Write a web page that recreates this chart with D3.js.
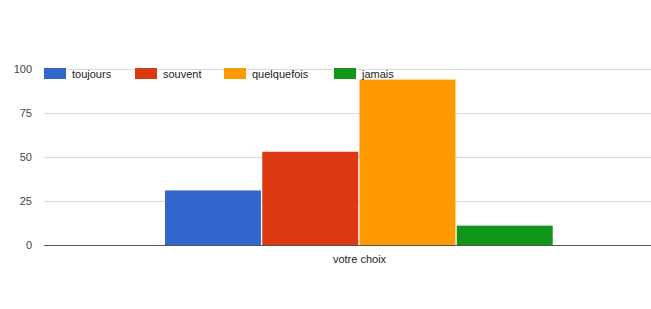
<!DOCTYPE html>
<html>
<head>
<meta charset="utf-8">
<script src="https://cdn.jsdelivr.net/npm/d3@7"></script>
<style>
  body { margin: 0; background: #fff; }
  svg { display: block; font-family: Arial, "Liberation Sans", sans-serif; }
</style>
</head>
<body>
<svg id="chart" width="651" height="309"></svg>
<script>
var categories = ["votre choix"];
var series = ["toujours", "souvent", "quelquefois", "jamais"];
var values = [31, 53, 94, 11];
var yTicks = [0, 25, 50, 75, 100];
var colors = ["#3366cc", "#dc3912", "#ff9900", "#109618"];

var svg = d3.select("#chart");
var margin = { top: 69, left: 44, bottom: 245 };

// plot area runs past the right edge of the window
var x0 = d3.scaleBand()
    .domain(categories)
    .range([margin.left, 675])
    .paddingInner(0)
    .paddingOuter(0.311);

var x1 = d3.scaleBand()
    .domain(series)
    .range([0, x0.bandwidth()])
    .padding(0);

var y = d3.scaleLinear()
    .domain([0, 100])
    .range([margin.bottom, margin.top]);

var z = d3.scaleOrdinal().domain(series).range(colors);

// gridlines
svg.append("g")
  .selectAll("line")
  .data(yTicks.filter(function(d) { return d !== 0; }))
  .enter().append("line")
    .attr("x1", margin.left)
    .attr("x2", 651)
    .attr("y1", function(d) { return Math.round(y(d)) + 0.5; })
    .attr("y2", function(d) { return Math.round(y(d)) + 0.5; })
    .attr("stroke", "#d9d9d9")
    .attr("stroke-width", 1);

// y tick labels
svg.append("g")
  .selectAll("text")
  .data(yTicks)
  .enter().append("text")
    .attr("x", 32)
    .attr("y", function(d) { return y(d) + 4; })
    .attr("text-anchor", "end")
    .style("font-size", "11px")
    .style("fill", "#444")
    .text(function(d) { return d; });

// bars
var rows = series.map(function(s, i) { return { key: s, value: values[i], cat: categories[0] }; });

svg.append("g")
  .selectAll("rect")
  .data(rows)
  .enter().append("rect")
    .attr("x", function(d) { return x0(d.cat) + x1(d.key); })
    .attr("y", function(d) { return y(d.value); })
    .attr("width", x1.bandwidth() - 1.3)
    .attr("height", function(d) { return y(0) - y(d.value); })
    .attr("fill", function(d) { return z(d.key); });

// baseline
svg.append("line")
    .attr("x1", margin.left)
    .attr("x2", 651)
    .attr("y1", Math.round(y(0)) + 0.5)
    .attr("y2", Math.round(y(0)) + 0.5)
    .attr("stroke", "#555")
    .attr("stroke-width", 1);

// category label
svg.append("g")
  .selectAll("text")
  .data(categories)
  .enter().append("text")
    .attr("x", function(d) { return x0(d) + x0.bandwidth() / 2; })
    .attr("y", 263)
    .attr("text-anchor", "middle")
    .style("font-size", "11px")
    .style("fill", "#222")
    .text(function(d) { return d; });

// legend
var legendX = [44, 135, 224, 334];
var legend = svg.append("g")
  .selectAll("g")
  .data(series)
  .enter().append("g")
    .attr("transform", function(d, i) { return "translate(" + legendX[i] + ",68)"; });

legend.append("rect")
    .attr("width", 22)
    .attr("height", 11)
    .attr("fill", function(d) { return z(d); });

legend.append("text")
    .attr("x", 28)
    .attr("y", 10)
    .style("font-size", "11px")
    .style("fill", "#222")
    .text(function(d) { return d; });
</script>
</body>
</html>
